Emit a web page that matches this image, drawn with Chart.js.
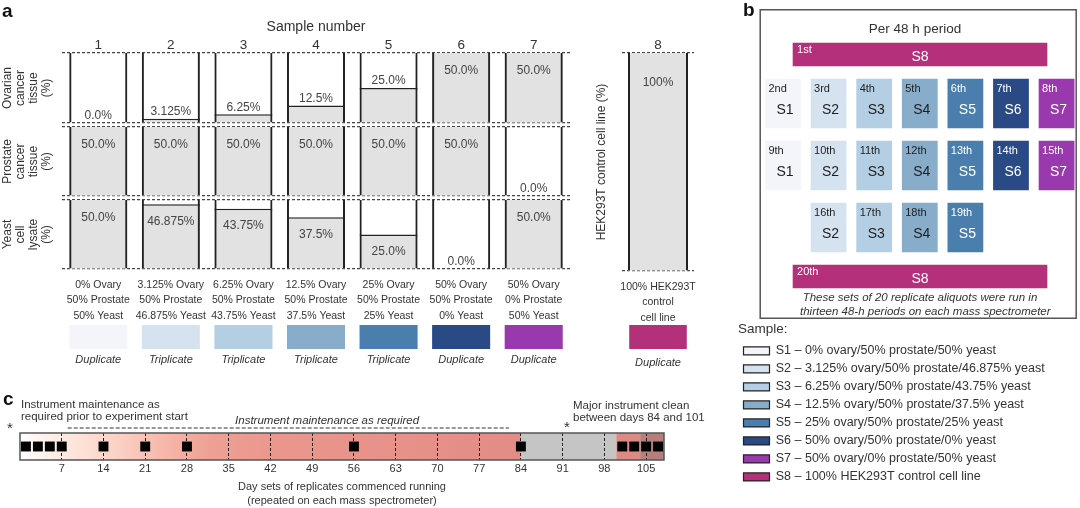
<!DOCTYPE html>
<html>
<head>
<meta charset="utf-8">
<title>Sample design</title>
<script src="https://cdn.jsdelivr.net/npm/chart.js@4.4.1/dist/chart.umd.min.js"></script>
<style>
  html, body { margin: 0; padding: 0; background: #fff; }
  #page { position: relative; width: 1080px; height: 508px; overflow: hidden;
          font-family: "Liberation Sans", Arial, Helvetica, sans-serif; color: #333; }
  canvas { position: absolute; }
  .t { position: absolute; white-space: nowrap; }
  .panel { font-weight: bold; font-size: 19px; line-height: 19px; color: #111; }
  .note { font-size: 11.5px; line-height: 12px; }
  .star { font-size: 15px; line-height: 15px; }
</style>
</head>
<body>
<div id="page">
  <canvas id="rowOvary" width="580" height="117" style="left:0;top:10px"></canvas>
  <canvas id="rowProstate" width="580" height="77" style="left:0;top:123px"></canvas>
  <canvas id="rowYeast" width="580" height="125" style="left:0;top:196px"></canvas>
  <canvas id="colControl" width="130" height="313" style="left:590px;top:10px"></canvas>
  <canvas id="swatchMix" width="580" height="49" style="left:0;top:325px"></canvas>
  <canvas id="swatchControl" width="110" height="52" style="left:590px;top:325px"></canvas>
  <canvas id="runOrder" width="342" height="508" style="left:738px;top:0"></canvas>
  <canvas id="timeline" width="690" height="128" style="left:0;top:380px"></canvas>

  <div class="t panel" style="left:2px;top:1px">a</div>
  <div class="t panel" style="left:743px;top:0">b</div>
  <div class="t panel" style="left:3px;top:389px">c</div>

  <div class="t" style="left:815px;top:21px;width:200px;text-align:center;font-size:13.5px;line-height:16px">Per 48 h period</div>
  <div class="t" style="left:800px;top:290px;width:240px;text-align:center;font-size:11.5px;line-height:14px;font-style:italic">These sets of 20 replicate aliquots were run in<br>thirteen 48-h periods on each mass spectrometer</div>

  <div class="t note" style="left:21px;top:398px">Instrument maintenance as<br>required prior to experiment start</div>
  <div class="t note" style="left:573px;top:399px">Major instrument clean<br>between days 84 and 101</div>
  <div class="t star" style="left:7px;top:420px">*</div>
  <div class="t star" style="left:564px;top:419px">*</div>
</div>

<script>
// Panel a - sample composition
const sampleNumbers = ['1', '2', '3', '4', '5', '6', '7', '8'];
const ovaryPct    = [0, 3.125, 6.25, 12.5, 25, 50, 50];
const prostatePct = [50, 50, 50, 50, 50, 50, 0];
const yeastPct    = [50, 46.875, 43.75, 37.5, 25, 0, 50];
const controlPct  = [100];
const controlName = 'HEK293T';
const replicates  = ['Duplicate', 'Triplicate', 'Triplicate', 'Triplicate', 'Triplicate', 'Duplicate', 'Duplicate', 'Duplicate'];

// Panel b - run order within each 48 h period
const sampleIds   = ['S1', 'S2', 'S3', 'S4', 'S5', 'S6', 'S7', 'S8'];
const runSequence = ['S8', 'S1', 'S2', 'S3', 'S4', 'S5', 'S6', 'S7',
                     'S1', 'S2', 'S3', 'S4', 'S5', 'S6', 'S7',
                     'S2', 'S3', 'S4', 'S5', 'S8'];

// Panel c - timeline (days)
const dayTicks        = [7, 14, 21, 28, 35, 42, 49, 56, 63, 70, 77, 84, 91, 98, 105];
const runDays         = [1, 3, 5, 7, 14, 21, 28, 56, 84, 101, 103, 105, 107];
const phaseDays       = [0, 84, 100, 104, 108];
const maintenanceDays = [8, 82];

// styles
const FONT = '"Liberation Sans", Arial, Helvetica, sans-serif';
const sampleColors = ['#f4f5fa', '#d5e3f0', '#b4cfe3', '#87adca', '#4a7fad', '#294a84', '#9a39ae', '#b5307a'];
const EDGE = '#222';
const CELL_FILL = '#e2e2e2';
const ROW_MAX = 50;

Chart.defaults.font.family = FONT;
Chart.defaults.color = '#333';
Chart.defaults.animation = false;
Chart.defaults.responsive = false;
Chart.defaults.events = [];
Chart.defaults.layout.autoPadding = false;
Chart.defaults.plugins.legend.display = false;
Chart.defaults.plugins.tooltip.enabled = false;

const mixLabels = ovaryPct.map((o, i) => [o + '% Ovary', prostatePct[i] + '% Prostate', yeastPct[i] + '% Yeast']);
const controlLabel = [[controlPct[0] + '% ' + controlName, 'control', 'cell line']];
const legendText = sampleIds.map((s, i) => i < ovaryPct.length
  ? s + ' \u2013 ' + ovaryPct[i] + '% ovary/' + prostatePct[i] + '% prostate/' + yeastPct[i] + '% yeast'
  : s + ' \u2013 ' + controlPct[0] + '% ' + controlName + ' control cell line');

function formatPct(v) {
  return (Number.isInteger(v) && v < 100 ? v.toFixed(1) : String(v)) + '%';
}

// value text on each cell
const cellLabels = {
  id: 'cellLabels',
  afterDatasetsDraw(chart, args, o) {
    const values = chart.data.datasets[1].data;
    const ctx = chart.ctx;
    ctx.save();
    ctx.font = '12px ' + FONT;
    ctx.fillStyle = '#444';
    ctx.textAlign = 'center';
    ctx.textBaseline = 'middle';
    chart.getDatasetMeta(1).data.forEach((bar, i) => {
      const v = values[i];
      let y = bar.y + o.inset;
      if (v < o.max && (o.above || v === 0)) y = bar.y - 7;
      ctx.fillText(formatPct(v), bar.x, y);
    });
    ctx.restore();
  }
};

function cellDatasets(values, max, barPct, axis) {
  const common = { grouped: false, barPercentage: barPct, categoryPercentage: 1, borderSkipped: false, xAxisID: axis, yAxisID: 'y' };
  return [
    { ...common, data: values.map(() => max), backgroundColor: 'rgba(0,0,0,0)', borderColor: EDGE,
      borderWidth: { top: 0, bottom: 0, left: 2, right: 2 } },
    { ...common, data: values, backgroundColor: CELL_FILL, borderColor: EDGE,
      borderWidth: c => c.raw >= max ? 0 : { top: 1.5, bottom: 0, left: 0, right: 0 } }
  ];
}

function yScale(max, title, width, pad, lh) {
  return {
    min: 0, max,
    afterBuildTicks: s => { s.ticks = [{ value: 0 }, { value: max }]; },
    ticks: { display: false },
    grid: { color: '#444', lineWidth: 1.2, drawTicks: false },
    border: { display: false, dash: [3, 2] },
    title: { display: true, text: title, color: '#333', font: { size: 12, lineHeight: lh }, padding: { top: pad, bottom: 0 } },
    afterFit: s => { s.width = width; }
  };
}

const hidden = { grid: { display: false, drawTicks: false }, border: { display: false } };
const numberAxis = {
  ...hidden, type: 'category', position: 'top', offset: true,
  ticks: { font: { size: 13.5 }, padding: 0, color: '#333' },
  afterFit: s => { s.height = 43; }
};
const mixAxis = {
  ...hidden, type: 'category', position: 'bottom', offset: true,
  ticks: { font: { size: 10.5, lineHeight: 15.5 / 10.5 }, padding: 8.25, color: '#333', autoSkip: false, maxRotation: 0, minRotation: 0 },
  afterFit: s => { s.height = 52; }
};

function rowChart(id, values, title, x, padTop, padBottom, above) {
  return new Chart(document.getElementById(id), {
    type: 'bar',
    data: { labels: sampleNumbers.slice(0, 7), datasets: cellDatasets(values, ROW_MAX, 0.8, 'x') },
    options: {
      layout: { padding: { top: padTop, bottom: padBottom, left: 0, right: 10 } },
      plugins: { cellLabels: { max: ROW_MAX, above, inset: 17.5 } },
      scales: { x, y: yScale(ROW_MAX, title, 62, 1.5, 13 / 12) }
    },
    plugins: [cellLabels]
  });
}

rowChart('rowOvary', ovaryPct, ['Ovarian', 'cancer', 'tissue', '(%)'],
  { ...numberAxis, title: { display: true, text: 'Sample number', color: '#333', font: { size: 14 }, padding: { top: 8.6, bottom: 0 } } },
  0, 4, true);
rowChart('rowProstate', prostatePct, ['Prostate', 'cancer', 'tissue', '(%)'],
  { type: 'category', offset: true, display: false }, 4, 4, false);
rowChart('rowYeast', yeastPct, ['Yeast', 'cell', 'lysate', '(%)'],
  { ...mixAxis, labels: mixLabels }, 4, 0, false);

new Chart(document.getElementById('colControl'), {
  type: 'bar',
  data: { labels: sampleNumbers.slice(7), datasets: cellDatasets(controlPct, 100, 60 / 72, 'x') },
  options: {
    layout: { padding: { top: 0, bottom: 0, left: 0, right: 26 } },
    plugins: { cellLabels: { max: 100, above: false, inset: 30 } },
    scales: {
      x: numberAxis,
      xb: { ...mixAxis, axis: 'x', labels: controlLabel },
      y: yScale(100, 'HEK293T control cell line (%)', 32, 5, 14 / 12)
    }
  },
  plugins: [cellLabels]
});

function swatchChart(id, labels, colors, padLeft, padRight, tickPad, axisH) {
  new Chart(document.getElementById(id), {
    type: 'bar',
    data: { labels, datasets: [{ data: labels.map(() => 1), backgroundColor: colors, borderWidth: 0, barPercentage: 0.8, categoryPercentage: 1 }] },
    options: {
      layout: { padding: { left: padLeft, right: padRight, top: 0, bottom: 0 } },
      scales: {
        x: { ...hidden, type: 'category', offset: true,
             ticks: { font: { size: 11, style: 'italic' }, padding: tickPad, color: '#333', autoSkip: false, maxRotation: 0 },
             afterFit: s => { s.height = axisH; } },
        y: { display: false, min: 0, max: 1 }
      }
    }
  });
}
swatchChart('swatchMix', replicates.slice(0, 7), sampleColors.slice(0, 7), 62, 10, 4.4, 25);
swatchChart('swatchControl', replicates.slice(7), sampleColors.slice(7), 32, 6, 7.4, 28);

// Panel b layout: a new row starts at every S8 run or when the column order restarts
const B_COL_HALF = 0.385, B_WIDE = [0.22, 5.79], B_FRAME = [-0.5, 6.43];
const B_TOP = 34, B_BOX = 49, B_BAND = 23, B_GAP = 13;

const runRows = [];
let prevCol = Infinity, prevWide = false;
runSequence.forEach((s, i) => {
  const col = sampleIds.indexOf(s);
  const wide = s === 'S8';
  if (!runRows.length || wide || prevWide || col <= prevCol) runRows.push({ wide, runs: [] });
  runRows[runRows.length - 1].runs.push({ sample: s, col, run: i + 1 });
  prevCol = col;
  prevWide = wide;
});
let yCursor = B_TOP;
runRows.forEach(r => {
  const h = r.wide ? B_BAND : B_BOX;
  r.center = yCursor + h / 2;
  yCursor += h + B_GAP;
});

function ordinal(n) {
  const s = ['th', 'st', 'nd', 'rd'], v = n % 100;
  return n + (s[(v - 20) % 10] || s[v] || s[0]);
}

const runLabels = {
  id: 'runLabels',
  beforeDatasetsDraw(chart) {
    const { ctx, chartArea: a, scales: { x } } = chart;
    const l = x.getPixelForValue(B_FRAME[0]), r = x.getPixelForValue(B_FRAME[1]);
    ctx.save();
    ctx.strokeStyle = '#555';
    ctx.lineWidth = 1.5;
    ctx.strokeRect(l, a.top + 0.75, r - l, a.bottom - a.top - 1.5);
    ctx.restore();
  },
  afterDatasetsDraw(chart) {
    const ctx = chart.ctx;
    ctx.save();
    ctx.textBaseline = 'middle';
    chart.data.datasets.forEach((ds, k) => {
      const wide = sampleIds[k] === 'S8';
      chart.getDatasetMeta(k).data.forEach((el, i) => {
        const { x, base, y, height } = el.getProps(['x', 'base', 'y', 'height'], true);
        const left = Math.min(x, base), right = Math.max(x, base), top = y - height / 2;
        ctx.fillStyle = k < 4 ? '#1e1e1e' : '#fff';
        ctx.font = '11px ' + FONT;
        ctx.textAlign = 'left';
        ctx.fillText(ordinal(ds.data[i].run), left + (wide ? 4 : 3), top + (wide ? 7 : 10));
        ctx.font = '14px ' + FONT;
        ctx.textAlign = 'center';
        ctx.fillText(sampleIds[k], (left + right) / 2 + (wide ? 0 : 2), y + (wide ? 2.5 : 6.5));
      });
    });
    ctx.restore();
  }
};

new Chart(document.getElementById('runOrder'), {
  type: 'bar',
  data: {
    datasets: sampleIds.map((s, k) => ({
      label: legendText[k],
      data: runRows.flatMap(r => r.runs.filter(u => u.sample === s).map(u => ({
        x: r.wide ? B_WIDE.slice() : [u.col - B_COL_HALF, u.col + B_COL_HALF],
        y: r.center,
        run: u.run
      }))),
      backgroundColor: sampleColors[k],
      borderWidth: 0,
      grouped: false,
      barThickness: s === 'S8' ? B_BAND : B_BOX
    }))
  },
  options: {
    indexAxis: 'y',
    layout: { padding: { left: 0, right: 2, top: 9, bottom: 14.8 } },
    scales: {
      x: { type: 'linear', min: -0.987, max: 6.47, display: false, offset: false },
      y: { type: 'linear', min: 0, max: 310, reverse: true, display: false, offset: false }
    },
    plugins: {
      legend: {
        display: true, position: 'bottom', align: 'start',
        title: { display: true, text: 'Sample:', position: 'start', color: '#333', font: { size: 13.5 }, padding: { top: 4, bottom: 0 } },
        labels: {
          boxWidth: 26, boxHeight: 8, padding: 5.5, color: '#333', font: { size: 12.5 },
          generateLabels: chart => Chart.defaults.plugins.legend.labels.generateLabels(chart)
            .map(l => ({ ...l, strokeStyle: '#222', lineWidth: 1.2 }))
        }
      }
    }
  },
  plugins: [runLabels]
});

// Panel c
const timelineDecor = {
  id: 'timelineDecor',
  beforeDraw(chart) {
    const { ctx, chartArea: a, scales: { x } } = chart;
    const px = phaseDays.map(d => x.getPixelForValue(d));
    const grad = ctx.createLinearGradient(px[0], 0, px[1], 0);
    [[0, '#ffffff'], [2, '#fef7f4'], [10, '#fde2d8'], [17, '#fbcfc3'], [24, '#f6b8ab'],
     [32, '#efa094'], [42, '#eb978d'], [84, '#e38c86']]
      .forEach(([d, c]) => grad.addColorStop(d / phaseDays[1], c));
    const fills = [grad, '#c5c5c5', '#dc8a84', '#b67f7c'];
    ctx.save();
    fills.forEach((f, i) => {
      ctx.fillStyle = f;
      ctx.fillRect(px[i], a.top, px[i + 1] - px[i], a.bottom - a.top);
    });
    ctx.restore();
  },
  afterDraw(chart) {
    const { ctx, chartArea: a, scales: { x } } = chart;
    ctx.save();
    ctx.strokeStyle = '#555';
    ctx.lineWidth = 1.5;
    ctx.strokeRect(a.left, a.top, a.right - a.left, a.bottom - a.top);
    ctx.strokeStyle = '#333';
    ctx.lineWidth = 1.2;
    ctx.setLineDash([4, 2]);
    ctx.beginPath();
    ctx.moveTo(x.getPixelForValue(maintenanceDays[0]), a.top - 5);
    ctx.lineTo(x.getPixelForValue(maintenanceDays[1]), a.top - 5);
    ctx.stroke();
    ctx.fillStyle = '#333';
    ctx.font = 'italic 11.5px ' + FONT;
    ctx.textAlign = 'center';
    ctx.textBaseline = 'middle';
    ctx.fillText('Instrument maintenance as required', x.getPixelForValue(51.5), a.top - 12);
    ctx.restore();
  }
};

new Chart(document.getElementById('timeline'), {
  type: 'scatter',
  data: {
    datasets: [{
      data: runDays.map(d => ({ x: d, y: 0 })),
      pointStyle: 'rect', pointRadius: 7, pointBackgroundColor: '#000', pointBorderWidth: 0
    }]
  },
  options: {
    layout: { padding: { left: 20, right: 26, top: 53, bottom: 0 } },
    scales: {
      x: {
        type: 'linear', min: 0, max: 108,
        afterBuildTicks: s => { s.ticks = dayTicks.map(v => ({ value: v })); },
        grid: { color: '#222', lineWidth: 1, drawTicks: false },
        border: { display: false, dash: [3, 2] },
        ticks: { font: { size: 11 }, color: '#333', padding: 2.5, autoSkip: false, maxRotation: 0 },
        title: { display: true, color: '#333', font: { size: 11, lineHeight: 14 / 11 }, padding: { top: 0, bottom: 0 },
                 text: ['Day sets of replicates commenced running', '(repeated on each mass spectrometer)'] },
        afterFit: s => { s.height = 48; }
      },
      y: { display: false, min: -1, max: 1 }
    }
  },
  plugins: [timelineDecor]
});
</script>
</body>
</html>
